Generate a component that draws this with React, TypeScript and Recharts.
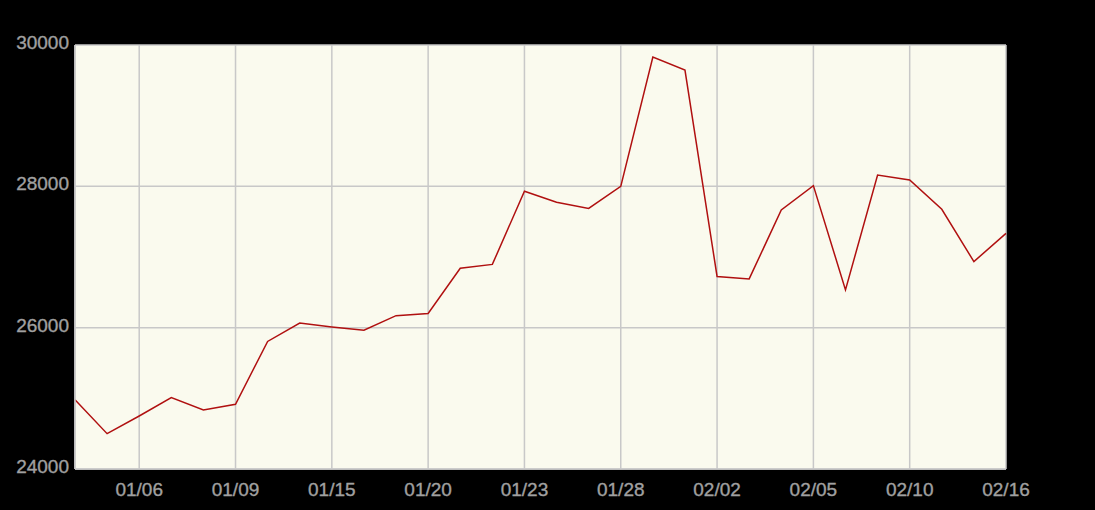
import React from "react";
import { LineChart, Line, XAxis, YAxis, CartesianGrid } from "recharts";

const dates = [
  "01/02", "01/05", "01/06", "01/07", "01/08", "01/09", "01/12", "01/14", "01/15", "01/16",
  "01/19", "01/20", "01/21", "01/22", "01/23", "01/26", "01/27", "01/28", "01/29", "01/30",
  "02/02", "02/03", "02/04", "02/05", "02/06", "02/09", "02/10", "02/11", "02/12", "02/16",
];
const values = [
  24980, 24500, 24750, 25010, 24835, 24915, 25805, 26065, 26010, 25965,
  26170, 26200, 26840, 26895, 27930, 27775, 27688, 28000, 29830, 29645,
  26725, 26690, 27665, 28010, 26535, 28160, 28090, 27675, 26935, 27335,
];
const xTicks = [2, 5, 8, 11, 14, 17, 20, 23, 26, 29];
const yTicks = [24000, 26000, 28000, 30000];

const data = values.map((v, i) => ({ i, date: dates[i], value: v }));

const font = "'Liberation Sans', Arial, sans-serif";
const textColor = "#a0a0a0";

const XTick = (props: any) => {
  const { x, y, payload } = props;
  return (
    <text
      x={x}
      y={y + 27}
      textAnchor="middle"
      fill={textColor}
      stroke={textColor}
      strokeWidth={0.35}
      fontSize={19}
      fontFamily={font}
    >
      {dates[payload.value]}
    </text>
  );
};

const YTick = (props: any) => {
  const { x, y, payload } = props;
  return (
    <text
      x={x}
      y={y + 4}
      textAnchor="end"
      fill={textColor}
      stroke={textColor}
      strokeWidth={0.35}
      fontSize={19}
      fontFamily={font}
    >
      {payload.value}
    </text>
  );
};

export default function App() {
  return (
    <div style={{ position: "absolute", left: 0, top: 0, width: 1095, height: 510, background: "#000" }}>
      <LineChart
        width={1095}
        height={510}
        data={data}
        margin={{ top: 45, right: 89, bottom: 0, left: 0 }}
      >
        <CartesianGrid
          stroke="#c8c8c8"
          strokeWidth={1.5}
          fill="#fafaee"
          fillOpacity={1}
        />
        <XAxis
          dataKey="i"
          type="number"
          domain={[0, 29]}
          ticks={xTicks}
          height={41}
          tickSize={0}
          tickMargin={0}
          axisLine={{ stroke: "#c8c8c8", strokeWidth: 1.5 }}
          tick={<XTick />}
          interval={0}
        />
        <YAxis
          domain={[24000, 30000]}
          ticks={yTicks}
          width={75}
          tickSize={0}
          tickMargin={6}
          axisLine={{ stroke: "#c8c8c8", strokeWidth: 1.5 }}
          tick={<YTick />}
          interval={0}
        />
        <Line
          type="linear"
          dataKey="value"
          stroke="#b01010"
          strokeWidth={1.5}
          dot={false}
          isAnimationActive={false}
        />
      </LineChart>
    </div>
  );
}
